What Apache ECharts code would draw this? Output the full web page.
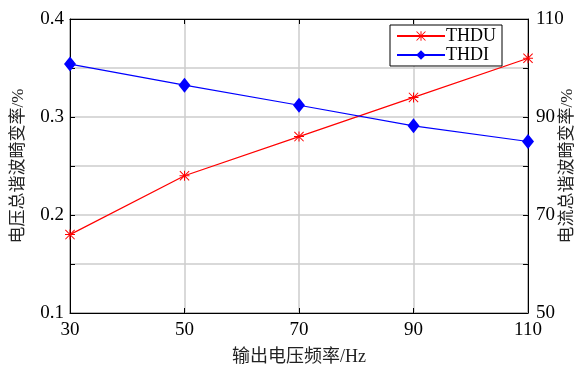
<!DOCTYPE html>
<html><head><meta charset="utf-8">
<script src="https://cdn.jsdelivr.net/npm/echarts@6/dist/echarts.min.js"></script>
<style>html,body{margin:0;padding:0;background:#fff}#c{width:584px;height:370px}</style>
</head><body><div id="c"></div>
<script>
const freq = [30, 50, 70, 90, 110];
const thdu = [0.18, 0.24, 0.28, 0.32, 0.36];
const thdi = [100.8, 96.5, 92.4, 88.2, 85.0];
const leftTicks = [0.1, 0.2, 0.3, 0.4];
const rightTicks = [50, 70, 90, 110];
const xTitle = '输出电压频率/Hz';
const leftTitle = '电压总谐波畸变率/%';
const rightTitle = '电流总谐波畸变率/%';

const FONT = '"Liberation Serif","Noto Sans CJK SC",serif';
const star = 'path://M4.5 0h1v10h-1zM0 4.5h10v1h-10zM0.7 0L10 9.3L9.3 10L0 0.7zM9.3 0L10 0.7L0.7 10L0 9.3z';
const gridLine = {show:true, lineStyle:{color:'#cccccc', width:1.5}};
const chart = echarts.init(document.getElementById('c'));
chart.setOption({
  animation:false,
  backgroundColor:'#fff',
  textStyle:{fontFamily:FONT},
  grid:{left:70, right:56, top:19, bottom:57, outerBoundsMode:'none', containLabel:false,
        show:true, borderColor:'#000', borderWidth:1, backgroundColor:'transparent'},
  legend:{
    right:82, top:25, orient:'vertical', backgroundColor:'#fff', borderColor:'#000', borderWidth:1,
    padding:[2,6,2,6], itemGap:1, itemWidth:48, itemHeight:12,
    textStyle:{fontFamily:FONT, fontSize:18, color:'#000', padding:[0,0,0,-4]},
    data:['THDU','THDI']
  },
  xAxis:[{
    type:'value', min:30, max:110, interval:20, position:'bottom',
    axisLine:{show:true, lineStyle:{color:'#000'}},
    axisTick:{show:true, inside:true, length:5, lineStyle:{color:'#000'}},
    axisLabel:{color:'#000', fontSize:19, fontFamily:FONT, margin:8},
    splitLine:gridLine,
    name:xTitle, nameLocation:'middle', nameGap:35, nameMoveOverlap:false,
    nameTextStyle:{color:'#222', fontSize:18, fontFamily:FONT}
  },{
    type:'value', min:30, max:110, interval:20, position:'top',
    axisLine:{show:true, lineStyle:{color:'#000'}},
    axisTick:{show:true, inside:true, length:5, lineStyle:{color:'#000'}},
    axisLabel:{show:false}, splitLine:{show:false}
  }],
  yAxis:[{
    type:'value', min:0.1, max:0.4, interval:0.05, position:'left',
    axisLine:{show:true, lineStyle:{color:'#000'}},
    axisTick:{show:true, inside:true, length:5, lineStyle:{color:'#000'}},
    axisLabel:{color:'#000', fontSize:19, fontFamily:FONT, margin:6,
      formatter:v=>{const t=leftTicks.find(x=>Math.abs(x-v)<1e-6);return t===undefined?'':t.toFixed(1);}},
    splitLine:gridLine,
    name:leftTitle, nameLocation:'middle', nameGap:43, nameRotate:90, nameMoveOverlap:false,
    nameTextStyle:{color:'#222', fontSize:17, fontFamily:FONT}
  },{
    type:'value', min:50, max:110, interval:10, position:'right',
    axisLine:{show:true, lineStyle:{color:'#000'}},
    axisTick:{show:true, inside:true, length:5, lineStyle:{color:'#000'}},
    axisLabel:{color:'#000', fontSize:19, fontFamily:FONT, margin:8,
      formatter:v=>rightTicks.indexOf(Math.round(v))>=0?String(Math.round(v)):''},
    splitLine:{show:false},
    name:rightTitle, nameLocation:'middle', nameGap:31, nameRotate:90, nameMoveOverlap:false,
    nameTextStyle:{color:'#222', fontSize:17, fontFamily:FONT}
  }],
  series:[{
    name:'THDU', type:'line', xAxisIndex:0, yAxisIndex:0,
    data:freq.map((f,i)=>[f,thdu[i]]),
    symbol:star, symbolSize:10, showAllSymbol:true,
    itemStyle:{color:'#ff0000'}, lineStyle:{color:'#ff0000', width:1.2}
  },{
    name:'THDI', type:'line', xAxisIndex:0, yAxisIndex:1,
    data:freq.map((f,i)=>[f,thdi[i]]),
    symbol:'diamond', symbolSize:[12,15],
    itemStyle:{color:'#0000ff'}, lineStyle:{color:'#0000ff', width:1.2}
  }]
});
</script></body></html>
